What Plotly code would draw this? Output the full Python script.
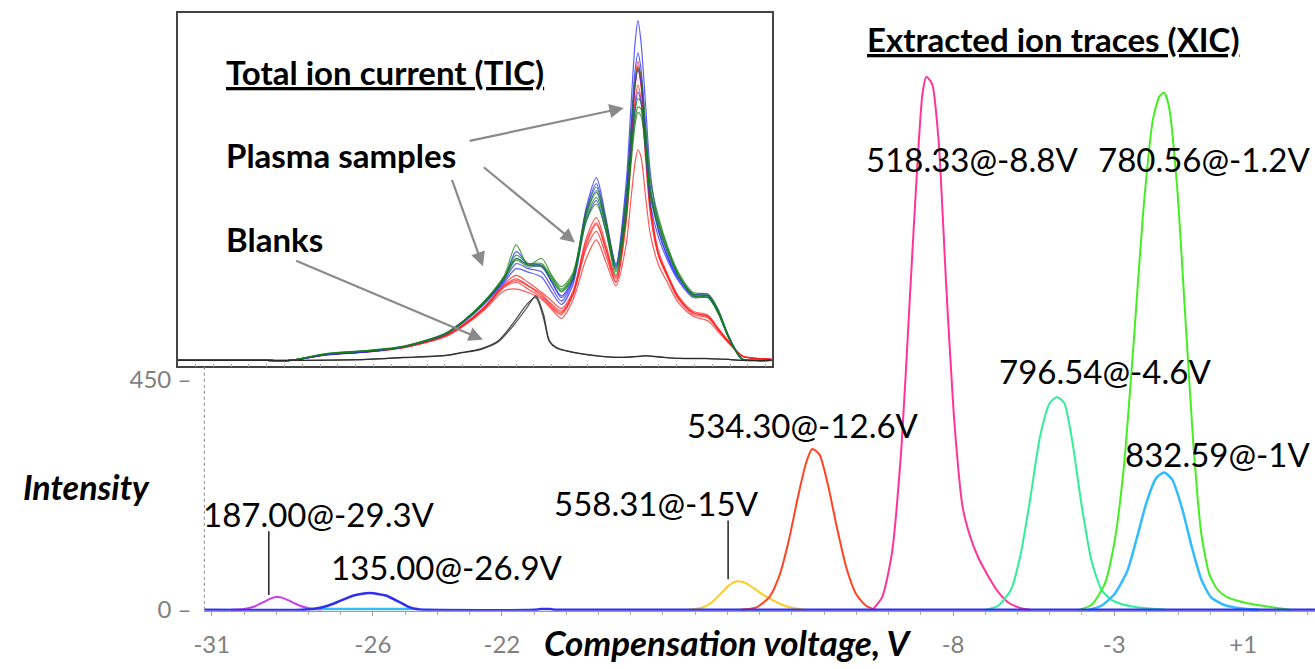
import plotly.graph_objects as go

W, H = 1315, 669
FONT = "Lato"

# ---------------- Main chart: extracted ion traces (CoV in V, intensity) ----------------
X_187 = [-30.4, -30.0, -29.7, -29.4, -29.2, -29.0, -28.8, -28.6, -28.3, -28.0, -27.6]
Y_187 = [0, 1.5, 6, 15, 21.5, 25, 23.5, 18, 9, 3, 0]

X_135 = [-31.25, -28.2, -27.8, -27.4, -27.0, -26.6, -26.1, -25.6, -25.2, -24.9, -24.6, -24.3,
         -21.0, -20.8, -20.5, -20.3, 3.25]
Y_135 = [0, 0, 2, 8, 18, 28, 33, 28, 16, 6, 1, 0, 0, 1.5, 1.5, 0, 0]

X_558 = [-16.2, -15.8, -15.5, -15.2, -14.95, -14.7, -14.45, -14.2, -13.9, -13.6, -13.3, -13.0, -12.6]
Y_558 = [0, 4, 14, 32, 48, 56, 53, 43, 30, 19, 10, 4, 0]

X_534 = [-14.6, -14.1, -13.7, -13.4, -13.1, -12.8, -12.55, -12.37, -12.15, -11.9, -11.6, -11.3, -11.0, -10.7, -10.4]
Y_534 = [0, 5, 25, 65, 135, 225, 290, 315, 305, 250, 160, 80, 30, 8, 0]

X_518 = [-10.5, -10.2, -9.9, -9.6, -9.35, -9.1, -8.95, -8.83, -8.65, -8.45, -8.2, -7.95, -7.7,
         -7.45, -7.2, -6.9, -6.6, -6.3, -5.9, -5.6]
Y_518 = [0, 25, 110, 320, 600, 880, 1010, 1044, 1030, 920, 620, 360, 200, 140, 100, 65, 35, 15, 3, 0]

X_796 = [-7.0, -6.6, -6.2, -5.9, -5.6, -5.3, -5.0, -4.77, -4.55, -4.3, -4.0, -3.7, -3.4, -3.1, -2.8, -2.4, -2.0, -1.4]
Y_796 = [0, 8, 40, 110, 220, 340, 405, 417, 405, 330, 200, 95, 40, 20, 12, 6, 3, 0]

X_780 = [-4.1, -3.7, -3.3, -3.0, -2.7, -2.4, -2.1, -1.8, -1.6, -1.45, -1.3, -1.05, -0.8, -0.55,
         -0.3, -0.05, 0.2, 0.5, 1.0, 1.6, 2.5]
Y_780 = [0, 10, 50, 130, 280, 520, 780, 960, 1005, 1013, 985, 830, 580, 330, 150, 70, 40, 25, 15, 8, 0]

X_832 = [-28.0, -24.6, None, -3.8, -3.4, -3.0, -2.6, -2.3, -2.0, -1.7, -1.45, -1.2, -0.9, -0.6, -0.3, 0.0, 0.4, 0.9, 1.5]
Y_832 = [1.5, 1.5, None, 0, 8, 30, 75, 140, 210, 258, 269, 255, 200, 125, 60, 25, 10, 3, 0]

PEAK_LABELS = ["187.00@-29.3V", "135.00@-26.9V", "558.31@-15V", "534.30@-12.6V",
               "518.33@-8.8V", "780.56@-1.2V", "796.54@-4.6V", "832.59@-1V"]
LABEL_X = [-27.66, -23.69, -17.2, -12.65, -7.41, -0.21, -3.29, 0.19]
LABEL_Y = [188, 83, 210, 362, 883, 883, 467, 306]

X_TICKVALS = [-31, -26, -22, -8, -3, 1]
X_TICKTEXT = ["-31", "-26", "-22", "-8", "-3", "+1"]
Y_TICKVALS = [0, 450]
Y_TICKTEXT = ["0 \u2013", "450 \u2013"]

# ---------------- Inset: total ion current (relative units) ----------------
X_TIC = [0, 15, 19, 25, 32, 38, 45, 48, 51.5, 55, 57, 59, 61.3, 63, 64.6, 66.5, 68.8, 70.5, 72.1,
         73.8, 75.5, 76.3, 77, 77.5, 78, 78.8, 79.6, 81, 82.6, 84.3, 86.8, 89.3, 91, 92.7, 95, 97.2, 100]

BLUE_TIC = [
    [0, 0, 0, 1.7, 2.6, 4.0, 7.8, 11.3, 16.8, 24, 32, 28.5, 28, 23, 19, 24, 45, 53.8, 42, 28.5,
     52, 74, 93, 100, 94, 75, 55, 40, 31, 25, 19.5, 19.5, 15, 7.5, 0.5, 0, 0],
    [0, 0, 0, 1.8, 2.7, 4.1, 7.9, 11.5, 17, 24.5, 30, 28, 27.5, 23, 18.5, 23.5, 44, 52, 41, 28,
     49, 68, 85, 90.5, 86, 68, 51, 38, 30, 24, 19, 19, 14.5, 7, 0.5, 0, 0],
    [0, 0, 0, 1.6, 2.5, 3.9, 7.6, 11, 16.3, 23, 27, 26, 24.5, 20, 16.5, 22, 41, 47, 38, 27,
     44, 61, 74, 79, 76, 61, 46, 36, 29, 23.5, 18.5, 18.5, 14, 7, 0.4, 0, 0],
    [0, 0, 0, 1.7, 2.6, 4.0, 7.7, 11.2, 16.6, 23.5, 28.5, 27, 26, 21.5, 17.5, 23, 43, 50, 40, 27.5,
     47, 65, 81, 85.5, 82, 65, 49, 38, 30, 24.5, 19.5, 19, 14.5, 7.2, 0.4, 0, 0],
]
GREEN_TIC = [
    [0, 0, 0, 2.0, 3.0, 4.2, 7.9, 11.5, 17.2, 25, 34, 28, 30, 25, 21.7, 25.5, 44, 51, 41, 27.7,
     48, 67, 82, 86, 84, 69, 53, 42, 33, 26, 20, 19.5, 15, 7.5, 0.5, 0, 0],
    [0, 0, 0, 2.0, 2.9, 4.1, 7.8, 11.4, 17, 24.5, 31, 28.5, 28.5, 24.5, 21, 25, 43, 49.4, 40, 26.5,
     44, 60, 73, 77, 76, 64, 50, 41, 32.5, 25.5, 19.5, 19, 14.5, 7.2, 0.4, 0, 0],
    [0, 0, 0, 1.9, 2.8, 4.0, 7.7, 11.3, 16.9, 24.5, 30, 28, 28, 24, 20.5, 24.5, 42, 48, 39.5, 26,
     43, 59, 71, 74.6, 74, 63, 49, 40, 32, 25, 19, 18.5, 14, 7, 0.4, 0, 0],
    [0, 0, 0, 1.9, 2.8, 4.0, 7.7, 11.2, 16.8, 24, 29.5, 27.5, 27.7, 23.5, 20.2, 24, 41, 46, 38, 25,
     42, 57, 69, 73, 72, 62, 48, 39, 31.5, 25, 19, 18.5, 14, 7, 0.4, 0, 0],
]
RED_TIC = [
    [0, 0, 0, 1.7, 2.6, 3.9, 7.3, 10.5, 15.5, 22.5, 25, 23, 20, 17.5, 15.3, 20, 36, 42, 34, 24.5,
     44, 64, 82, 88, 83, 64, 46, 32, 25, 19, 14.5, 13.3, 9.5, 5.8, 1.4, 0.6, 0.3],
    [0, 0, 0, 1.7, 2.6, 3.9, 7.2, 10.3, 15.2, 22, 24, 22, 19, 16.5, 14.5, 19.5, 35, 40.5, 33, 24,
     43, 63, 81, 86.7, 82, 63, 45, 31, 24.5, 18.5, 14, 13, 9.3, 5.7, 1.4, 0.6, 0.3],
    [0, 0, 0, 1.7, 2.6, 3.8, 7.1, 10.2, 15, 21.5, 23, 21, 18.5, 15.5, 13.5, 19, 34, 40, 32.5, 23,
     40, 59, 76, 81, 77, 59, 43, 30.5, 24, 18, 13.5, 12.5, 9, 5.5, 1.3, 0.6, 0.3],
    [0, 0, 0, 1.6, 2.5, 3.7, 6.9, 9.9, 14.6, 20.5, 21, 20, 18, 15, 12.4, 17.5, 30, 35.5, 29, 22,
     34, 47, 58, 62, 60, 48, 37, 28, 22.5, 17, 13, 11.6, 8.5, 5.2, 1.3, 0.6, 0.3],
    [0, 0, 0, 1.7, 2.6, 3.8, 7.2, 10.3, 15.3, 22, 23.5, 22, 19.5, 16, 14, 19, 33, 38, 31, 23,
     42, 62, 80, 86, 81, 62, 44, 31, 24.5, 18.5, 14, 12.8, 9.2, 5.6, 1.3, 0.6, 0.3],
]
X_BLANK = [0, 20, 32, 38, 45, 48, 51, 54, 56.6, 58.8, 60.3, 61.6, 62.6, 63.8, 65.4, 68, 70.5,
           73.8, 76.5, 78.8, 81, 84.3, 88.8, 92.7, 95, 100]
BLANK_TIC = [
    [0, 0, 0.3, 0.8, 1.4, 2.3, 3.2, 5.5, 10.4, 15.5, 19, 13.6, 5.8, 3.8, 2.9, 2.0, 1.4, 0.9, 1.1,
     1.4, 1.1, 0.6, 0.6, 0.3, 0, 0],
    [0, 0, 0.3, 0.9, 1.5, 2.4, 3.4, 5.8, 11.2, 16.5, 18.5, 12.5, 5.5, 3.6, 2.8, 1.9, 1.3, 0.9, 1.0,
     1.3, 1.0, 0.6, 0.5, 0.3, 0, 0],
]

# ---------------- figure ----------------
fig = go.Figure()

for ys, col in [(RED_TIC, "rgba(255,30,30,0.75)"), (BLUE_TIC, "rgba(40,40,255,0.75)"),
                (GREEN_TIC, "rgba(20,130,20,0.75)")]:
    for y in ys:
        fig.add_trace(go.Scatter(x=X_TIC, y=y, mode="lines", xaxis="x2", yaxis="y2",
                                 line=dict(color=col, width=1.2, shape="spline", smoothing=0.8),
                                 hoverinfo="skip", showlegend=False))
for y in BLANK_TIC:
    fig.add_trace(go.Scatter(x=X_BLANK, y=y, mode="lines", xaxis="x2", yaxis="y2",
                             line=dict(color="rgba(40,40,40,0.85)", width=1.2, shape="spline", smoothing=0.8),
                             hoverinfo="skip", showlegend=False))

main_traces = [
    (X_187, Y_187, "#cc3cf0", 2),
    (X_558, Y_558, "#ffcc22", 2),
    (X_534, Y_534, "#ff4422", 2),
    (X_518, Y_518, "#ff3399", 2),
    (X_796, Y_796, "#33ee99", 2),
    (X_832, Y_832, "#33bbff", 2.5),
    (X_780, Y_780, "#44ee22", 2),
    (X_135, Y_135, "#2f2fee", 2.5),
]
for xs, ys, col, lw in main_traces:
    fig.add_trace(go.Scatter(x=xs, y=ys, mode="lines", xaxis="x", yaxis="y",
                             line=dict(color=col, width=lw, shape="spline", smoothing=0.6),
                             connectgaps=False, hoverinfo="skip", showlegend=False))

annotations = []
for t, lx, ly in zip(PEAK_LABELS, LABEL_X, LABEL_Y):
    annotations.append(dict(x=lx, y=ly, xref="x", yref="y", text=t, showarrow=False,
                            font=dict(family=FONT, size=33, color="black"),
                            xanchor="center", yanchor="middle"))

# headers and axis titles
annotations += [
    dict(x=1051 / W, y=1 - 40 / H, xref="paper", yref="paper", text="<b><u>Extracted ion traces (XIC)</u></b>",
         showarrow=False, font=dict(family=FONT, size=33, color="black"), xanchor="center", yanchor="middle"),
    dict(x=76 / W, y=1 - 495 / H, xref="paper", yref="paper", text="<b><i>Intensity</i></b>",
         showarrow=False, font=dict(family=FONT, size=34, color="black"), xanchor="center", yanchor="middle"),
    dict(x=723 / W, y=1 - 654 / H, xref="paper", yref="paper", text="<b><i>Compensation voltage, V</i></b>",
         showarrow=False, font=dict(family=FONT, size=35, color="black"), xanchor="center", yanchor="middle"),
    dict(x=7.85, y=85.0, xref="x2", yref="y2", text="<b><u>Total ion current (TIC)</u></b>",
         showarrow=False, font=dict(family=FONT, size=33, color="black"), xanchor="left", yanchor="middle"),
    dict(x=7.85, y=60.4, xref="x2", yref="y2", text="<b>Plasma samples</b>",
         showarrow=False, font=dict(family=FONT, size=33, color="black"), xanchor="left", yanchor="middle"),
    dict(x=7.85, y=35.8, xref="x2", yref="y2", text="<b>Blanks</b>",
         showarrow=False, font=dict(family=FONT, size=33, color="black"), xanchor="left", yanchor="middle"),
]
# arrows in the inset (head, tail in inset units)
for hx, hy, tx, ty in [(75.1, 74.3, 48.9, 64.5), (66.9, 34.7, 51.3, 57.2),
                       (51.4, 27.7, 46.1, 53.6), (51.4, 6.1, 19.7, 29.5)]:
    annotations.append(dict(x=hx, y=hy, ax=tx, ay=ty, xref="x2", yref="y2", axref="x2", ayref="y2",
                            text="", showarrow=True, arrowhead=2, arrowsize=1.3, arrowwidth=2.2,
                            arrowcolor="#8a8a8a"))

shapes = [
    dict(type="line", xref="x domain", yref="y", x0=0, x1=0, y0=0, y1=477,
         line=dict(color="#9a9a9a", width=1.2, dash="dot")),
    dict(type="line", xref="x", yref="y", x0=-29.23, x1=-29.23, y0=29, y1=154,
         line=dict(color="black", width=1.3)),
    dict(type="line", xref="x", yref="y", x0=-14.98, x1=-14.98, y0=60, y1=175,
         line=dict(color="black", width=1.3)),
]

fig.update_layout(
    width=W, height=H, autosize=False,
    margin=dict(l=0, r=0, t=0, b=0),
    paper_bgcolor="white", plot_bgcolor="white",
    font=dict(family=FONT),
    xaxis=dict(domain=[195 / W, 1.0], range=[-31.23, 3.23], anchor="y",
               tickmode="array", tickvals=X_TICKVALS, ticktext=X_TICKTEXT,
               ticks="outside", ticklen=4, tickcolor="#999999", ticklabelstandoff=8,
               minor=dict(tickmode="linear", tick0=-31, dtick=1, ticks="outside", ticklen=3, tickcolor="#aaaaaa"),
               tickfont=dict(family=FONT, size=24, color="#7f7f7f"),
               showline=True, linecolor="#9a9a9a", linewidth=1,
               showgrid=False, zeroline=False),
    yaxis=dict(domain=[47 / H, 656 / H], range=[-1.92, 1169.2], anchor="x",
               tickmode="array", tickvals=Y_TICKVALS, ticktext=Y_TICKTEXT, ticks="",
               ticklabelstandoff=12,
               tickfont=dict(family=FONT, size=24, color="#7f7f7f"),
               showline=False, showgrid=False, zeroline=False),
    xaxis2=dict(domain=[168 / W, 767 / W], range=[0, 100], anchor="y2",
                showline=True, mirror=True, linecolor="#444444", linewidth=1.5,
                ticks="inside", ticklen=3, dtick=3, tickcolor="#aaaaaa",
                showticklabels=False, showgrid=False, zeroline=False),
    yaxis2=dict(domain=[(H - 373) / H, (H - 13) / H], range=[-1.73, 102.3], anchor="x2",
                showline=True, mirror=True, linecolor="#444444", linewidth=1.5,
                ticks="", showticklabels=False, showgrid=False, zeroline=False),
    annotations=annotations,
    shapes=shapes,
)

fig.write_html("out.html")
